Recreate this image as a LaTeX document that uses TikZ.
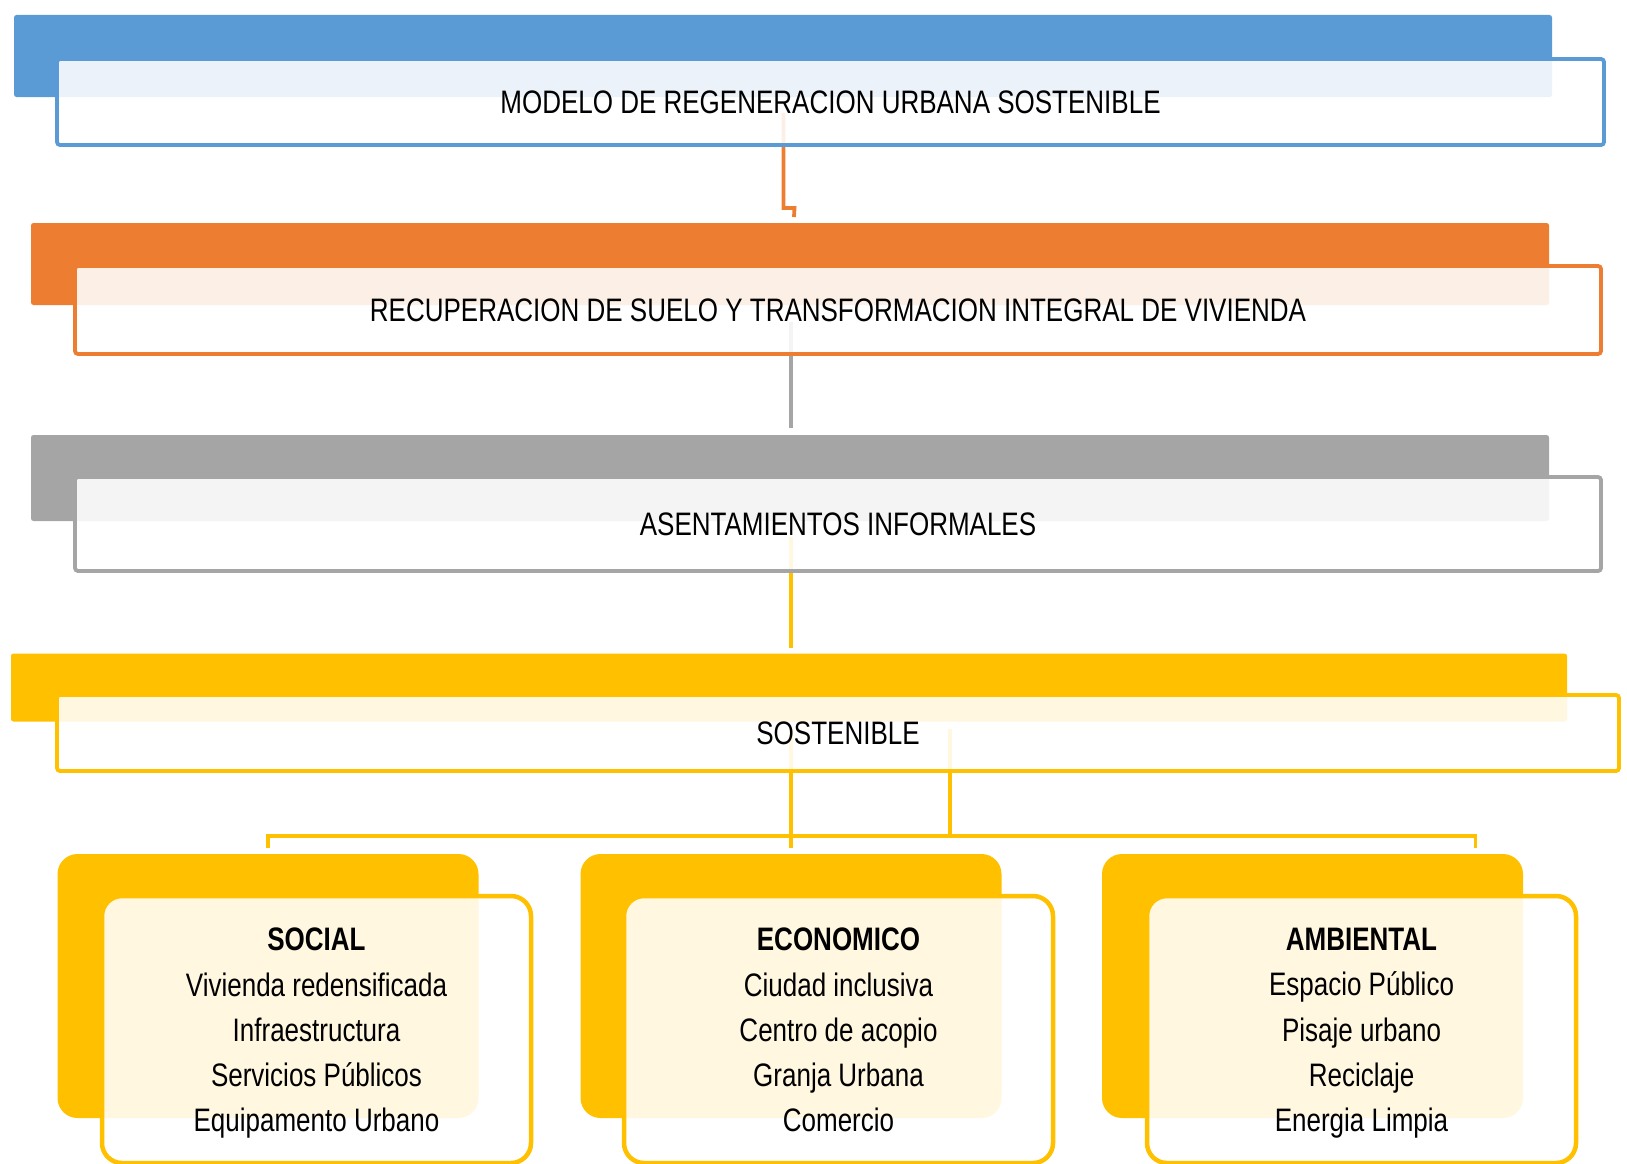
\documentclass[tikz,border=0pt]{standalone}
\usepackage{fontspec}
\newfontfamily\diagfont[FakeStretch=0.8]{Liberation Sans}
\usetikzlibrary{backgrounds}
\definecolor{cBlue}{HTML}{5B9BD5}
\definecolor{cOrange}{HTML}{ED7D31}
\definecolor{cGray}{HTML}{A5A5A5}
\definecolor{cYellow}{HTML}{FFC000}
\tikzset{
  backbox/.style={rectangle,rounded corners=2.5pt,inner sep=0pt,outer sep=0pt},
  frontbox/.style={rectangle,rounded corners=3pt,draw,line width=3.8pt,fill=white,
    fill opacity=0.88,text opacity=1,inner sep=0pt,outer sep=0pt,
    font=\diagfont\fontsize{32.5}{39}\selectfont},
  cardback/.style={backbox,rounded corners=20pt,fill=cYellow,minimum width=421pt,minimum height=264pt},
  cardfront/.style={frontbox,rounded corners=20pt,draw=cYellow,line width=4.5pt,minimum width=429pt,minimum height=267pt},
  cardtext/.style={anchor=north,align=center,inner sep=0pt,font=\diagfont\fontsize{32.5}{45.25}\selectfont},
  link/.style={line width=3.8pt}
}
\begin{document}
\begin{tikzpicture}[x=1pt,y=-1pt]
  \useasboundingbox (0,0) rectangle (1627,1164);
  % niveles
  \node[backbox,fill=cBlue,minimum width=1538pt,minimum height=82pt] (modeloB) at (783,56) {};
  \node[frontbox,draw=cBlue,minimum width=1547pt,minimum height=86pt] (modelo) at (830.5,102) {MODELO DE REGENERACION URBANA SOSTENIBLE};
  \node[backbox,fill=cOrange,minimum width=1518pt,minimum height=82pt] (recupB) at (790,264) {};
  \node[frontbox,draw=cOrange,minimum width=1526pt,minimum height=88pt] (recup) at (838,310) {RECUPERACION DE SUELO Y TRANSFORMACION INTEGRAL DE VIVIENDA};
  \node[backbox,fill=cGray,minimum width=1518pt,minimum height=86pt] (asentB) at (790,478) {};
  \node[frontbox,draw=cGray,minimum width=1526pt,minimum height=94pt] (asent) at (838,524) {ASENTAMIENTOS INFORMALES};
  \node[backbox,fill=cYellow,minimum width=1556pt,minimum height=68pt] (sostB) at (789,687.5) {};
  \node[frontbox,draw=cYellow,minimum width=1562pt,minimum height=76pt] (sost) at (838,733) {SOSTENIBLE};
  % dimensiones
  \node[cardback] (socialB) at (268,986) {};
  \node[cardfront] (social) at (316.5,1029.5) {};
  \node[cardtext] (socialT) at ([yshift=-32pt]social.north) {\textbf{SOCIAL}\\Vivienda redensificada\\Infraestructura\\Servicios Públicos\\Equipamento Urbano};
  \node[cardback] (econB) at (791,986) {};
  \node[cardfront] (econ) at (838.5,1029.5) {};
  \node[cardtext] (econT) at ([yshift=-32pt]econ.north) {\textbf{ECONOMICO}\\Ciudad inclusiva\\Centro de acopio\\Granja Urbana\\Comercio};
  \node[cardback] (ambB) at (1312.5,986) {};
  \node[cardfront] (amb) at (1361.5,1029.5) {};
  \node[cardtext] (ambT) at ([yshift=-32pt]amb.north) {\textbf{AMBIENTAL}\\Espacio Público\\Pisaje urbano\\Reciclaje\\Energia Limpia};
  % conectores
  \begin{pgfonlayer}{background}
    \draw[link,cOrange] ([xshift=-47pt,yshift=-11pt]modelo.center) -- ++(0,95) -- ++(11,0) -- ([xshift=4pt,yshift=6pt]recupB.north);
    \draw[link,cGray] ([xshift=-47pt,yshift=-12pt]recup.center) -- ([xshift=1pt,yshift=7pt]asentB.north);
    \draw[link,cYellow] ([xshift=-47pt,yshift=-13pt]asent.center) -- ([xshift=2pt,yshift=6pt]sostB.north);
    \draw[link,cYellow] ([xshift=-47pt,yshift=4pt]sost.center) -- ([yshift=6pt]econB.north);
    \draw[link,cYellow] ([xshift=112pt,yshift=4pt]sost.center) |- ([yshift=18pt]socialB.north) -- ([yshift=6pt]socialB.north);
    \draw[link,cYellow] ([xshift=112pt,yshift=4pt]sost.center) |- ([xshift=163pt,yshift=18pt]ambB.north) -- ([xshift=163pt,yshift=6pt]ambB.north);
  \end{pgfonlayer}
\end{tikzpicture}
\end{document}
